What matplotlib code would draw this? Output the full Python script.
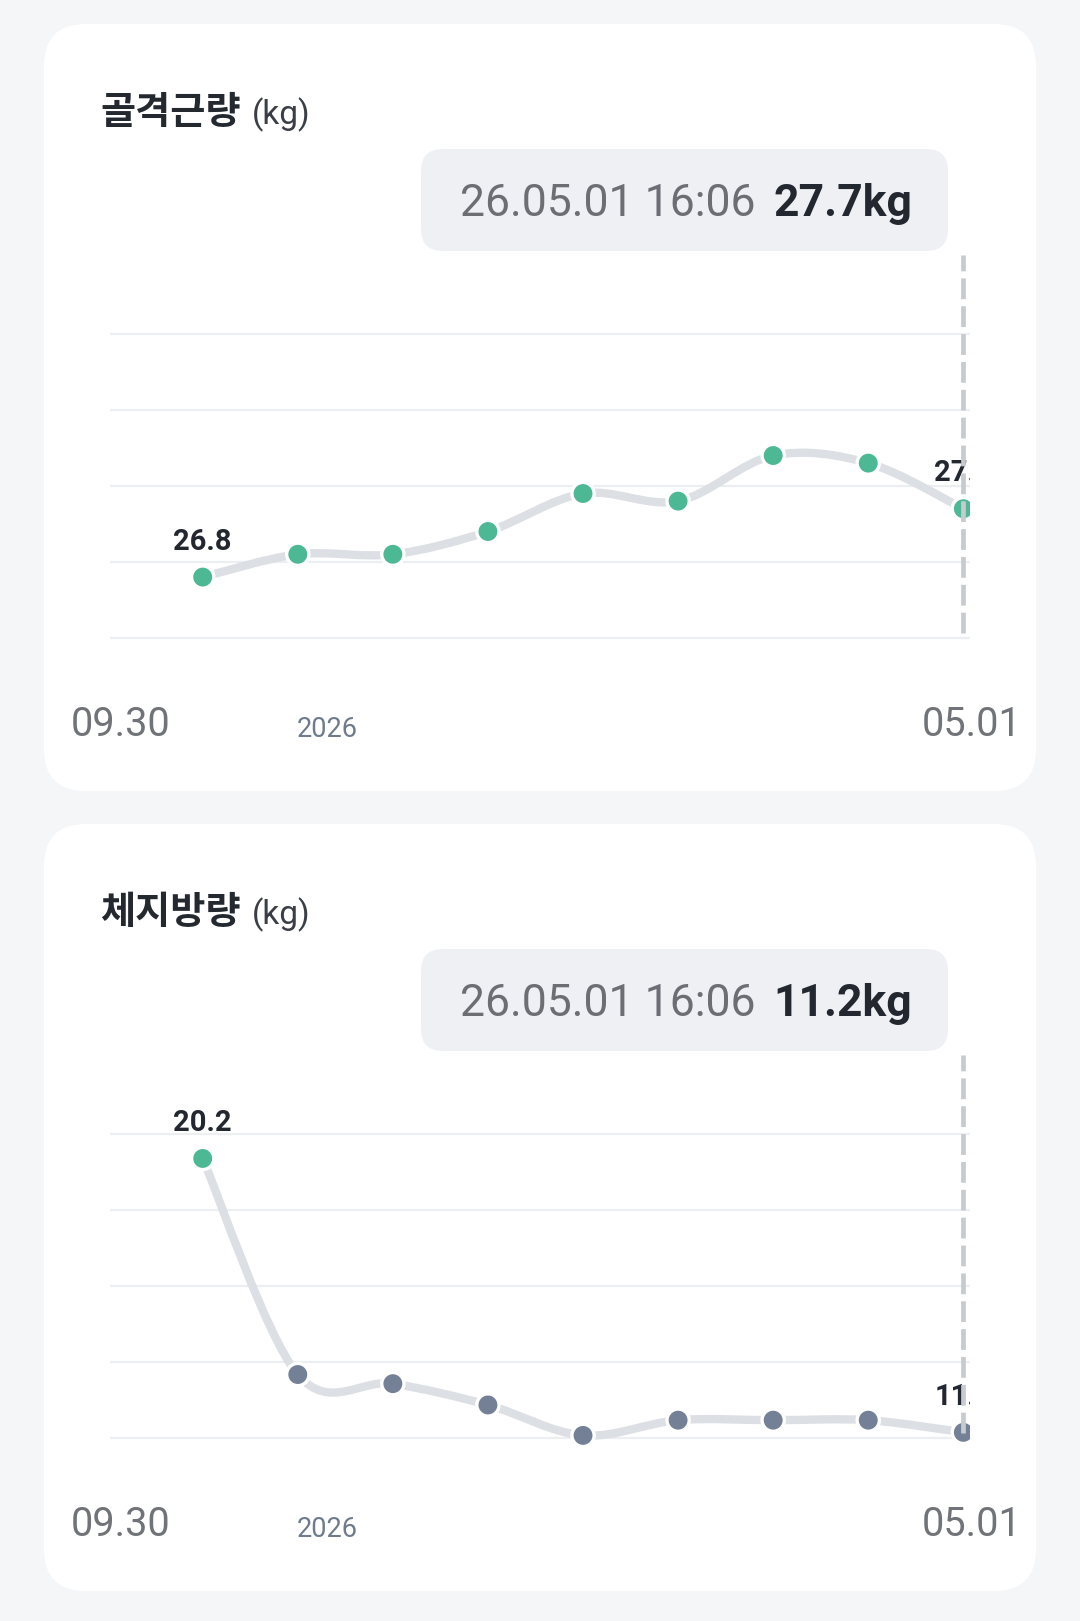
import numpy as np
import matplotlib
matplotlib.use('Agg')
import matplotlib.pyplot as plt
from matplotlib.patches import FancyBboxPatch, PathPatch
from matplotlib.path import Path

plt.rcParams['font.family'] = ['Roboto', 'Noto Sans CJK KR', 'DejaVu Sans']

# data
titles = ['골격근량', '체지방량']
unit = '(kg)'
muscle = [26.8, 27.1, 27.1, 27.4, 27.9, 27.8, 28.4, 28.3, 27.7]
fat = [20.2, 13.1, 12.8, 12.1, 11.1, 11.6, 11.6, 11.6, 11.2]
muscle_colors = ['#4cb894'] * 9
fat_colors = ['#4cb894'] + ['#738095'] * 8
muscle_ticks = [26, 27, 28, 29, 30]
fat_ticks = [11, 13.5, 16, 18.5, 21]
muscle_ylim = (25.84, 31.04)
fat_ylim = (10.62, 23.6)
start_label, end_label, year_label = '09.30', '05.01', '2026'
stamp = '26.05.01 16:06'

W, H = 1080, 1621
fig = plt.figure(figsize=(W / 100, H / 100), dpi=100, facecolor='#f5f6f8')

# pixel-space overlay for cards and text
bg = fig.add_axes([0, 0, 1, 1], zorder=0)
bg.set_xlim(0, W)
bg.set_ylim(H, 0)
bg.axis('off')


def smooth_path(xs, ys):
    # catmull-rom spline as cubic bezier segments
    px = np.concatenate([[xs[0]], xs, [xs[-1]]]).astype(float)
    py = np.concatenate([[ys[0]], ys, [ys[-1]]]).astype(float)
    verts = [(xs[0], ys[0])]
    codes = [Path.MOVETO]
    for i in range(len(xs) - 1):
        p0 = np.array([px[i], py[i]])
        p1 = np.array([px[i + 1], py[i + 1]])
        p2 = np.array([px[i + 2], py[i + 2]])
        p3 = np.array([px[i + 3], py[i + 3]])
        c1 = p1 + (p2 - p0) / 6
        c2 = p2 - (p3 - p1) / 6
        verts += [tuple(c1), tuple(c2), tuple(p2)]
        codes += [Path.CURVE4] * 3
    return Path(verts, codes)


panels = [
    (titles[0], muscle, muscle_colors, muscle_ticks, muscle_ylim),
    (titles[1], fat, fat_colors, fat_ticks, fat_ylim),
]

fig.canvas.draw()
renderer = fig.canvas.get_renderer()

for k, (title, vals, cols, ticks, ylim) in enumerate(panels):
    dy = 800 * k
    # card
    bg.add_patch(FancyBboxPatch((44, 24 + dy), 992, 767,
                                boxstyle='round,pad=0,rounding_size=42',
                                fc='white', ec='none'))
    # title
    t = bg.text(100, 124 + dy, title, fontsize=27.5, fontweight='bold',
                color='#24282f', va='baseline', ha='left',
                family=['Noto Sans CJK KR', 'DejaVu Sans'])
    bb = t.get_window_extent(renderer)
    bg.text(bb.x1 + 11, 124 + dy, unit, fontsize=24, color='#3a3e45',
            va='baseline', ha='left')

    # tooltip
    bg.add_patch(FancyBboxPatch((421, 149 + dy), 527, 102,
                                boxstyle='round,pad=0,rounding_size=22',
                                fc='#eff0f4', ec='none'))
    t1 = bg.text(460, 216 + dy, stamp, fontsize=32, color='#6b6e73',
                 va='baseline', ha='left')
    bb1 = t1.get_window_extent(renderer)
    bg.text(bb1.x1 + 18, 216 + dy, f'{vals[-1]}kg', fontsize=32,
            fontweight='bold', color='#23272f', va='baseline', ha='left')

    # x labels
    bg.text(71, 736 + dy, start_label, fontsize=28.5, color='#707377',
            va='baseline', ha='left')
    bg.text(1021, 736 + dy, end_label, fontsize=28.5, color='#707377',
            va='baseline', ha='right')
    bg.text(327, 737 + dy, year_label, fontsize=19.5, color='#6f7b8b',
            va='baseline', ha='center')

    # chart
    ax = fig.add_axes([110 / W, 1 - (650 + dy) / H, 860 / W, 395 / H], zorder=1)
    ax.set_facecolor('none')
    for s in ax.spines.values():
        s.set_visible(False)
    x = np.arange(len(vals))
    ax.set_xlim(-0.975, 8.07)
    ax.set_ylim(*ylim)
    ax.set_yticks(ticks)
    ax.set_xticks([])
    ax.tick_params(left=False, labelleft=False)
    ax.grid(axis='y', color='#eceef1', lw=1.6)
    ax.set_axisbelow(True)

    ax.add_patch(PathPatch(smooth_path(x, vals), fc='none', ec='#dcdfe4',
                           lw=6.0, capstyle='round', zorder=3))
    ax.scatter(x, vals, s=16 ** 2, c=cols, edgecolors='white',
               linewidths=2.4, zorder=4)

    for i in (0, len(vals) - 1):
        ax.annotate(f'{vals[i]}', (x[i], vals[i]), xytext=(0, 19.7),
                    textcoords='offset points', ha='center', va='baseline',
                    fontsize=21, fontweight='bold', color='#23272f',
                    clip_on=True, zorder=5)

    # hover guide on the latest point
    ax.axvline(x[-1], ymin=0.044, ymax=1, color='#c7cad0', lw=3.4,
               dashes=(4.4, 1.5), zorder=6)

fig.savefig('out.png', dpi=100, facecolor=fig.get_facecolor())
